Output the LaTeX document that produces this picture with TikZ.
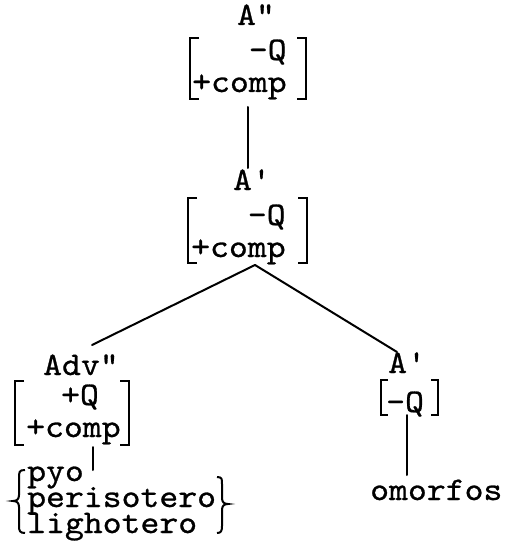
\documentclass[tikz,border=0pt]{standalone}
\usepackage{fontspec}
\newfontfamily\tw{lmmono10-regular}[Extension=.otf, FakeStretch=1.09, FakeBold=0.8]
\tikzset{
  lbl/.style={inner sep=0pt, font=\tw\fontsize{33}{33}\selectfont},
  brk/.style={line width=2.4pt, line join=miter},
  edge/.style={line width=2pt, line cap=round},
}
\begin{document}
\begin{tikzpicture}[x=1pt,y=-1pt]
\useasboundingbox (0,0) rectangle (504,553);
% top A''
\node[lbl,anchor=base] (tlab) at (256,25) {A\symbol{34}};
\node[lbl,anchor=base west] (tcomp) at (192,92) {+comp};
\node[lbl,anchor=base east] (tq) at (tcomp.base east |- 0,60) {-Q};
\draw[brk] (199,38) -- (190,38) -- (190,99) -- (199,99);
\draw[brk] (297,38) -- (306,38) -- (306,99) -- (297,99);
% middle A'
\node[lbl,anchor=base] (mlab) at (252,190) {A\symbol{39}};
\node[lbl,anchor=base west] (mcomp) at (191,257) {+comp};
\node[lbl,anchor=base east] (mq) at (mcomp.base east |- 0,225) {-Q};
\draw[brk] (197,198) -- (188,198) -- (188,263) -- (197,263);
\draw[brk] (298,198) -- (307,198) -- (307,263) -- (298,263);
% left Adv''
\node[lbl,anchor=base west] (llab) at (43,375) {Adv\symbol{34}};
\node[lbl,anchor=base] (lq) at (80,405) {+Q};
\node[lbl,anchor=base west] (lcomp) at (26,437) {+comp};
\draw[brk] (24,381) -- (15,381) -- (15,445) -- (24,445);
\draw[brk] (120,381) -- (129,381) -- (129,445) -- (120,445);
% words
\node[lbl,anchor=base west] (w1) at (27,481) {pyo};
\node[lbl,anchor=base west] (w2) at (27,507) {perisotero};
\node[lbl,anchor=base west] (w3) at (27,533) {lighotero};
\draw[brk,line width=2pt] (25,470) .. controls (19,470) and (19,472) .. (19,478) -- (19,495)
   .. controls (19,499) and (17,501) .. (13,501) .. controls (17,501) and (19,503) .. (19,507)
   -- (19,526) .. controls (19,531) and (20,533) .. (25,533);
\draw[brk,line width=2pt] (217,477) .. controls (222,477) and (222,479) .. (222,484) -- (222,498)
   .. controls (222,502) and (224,504) .. (228,504) .. controls (224,504) and (222,506) .. (222,510)
   -- (222,526) .. controls (222,531) and (221,533) .. (217,533);
% right A'
\node[lbl,anchor=base west] (rlab) at (388,373) {A\symbol{39}};
\node[lbl,anchor=base west] (rq) at (386,412) {-Q};
\draw[brk] (388,380) -- (381,380) -- (381,415) -- (388,415);
\draw[brk] (431,380) -- (438,380) -- (438,415) -- (431,415);
\node[lbl,anchor=base west] (om) at (370,500) {omorfos};
% connectors
\coordinate (c1) at (248,107);
\coordinate (c2) at (248,168);
\coordinate (apex) at (255,265);
\coordinate (lend) at (92,345);
\coordinate (rend) at (397,352);
\coordinate (lv1) at (93,447);
\coordinate (lv2) at (93,470);
\coordinate (rv1) at (407,415);
\coordinate (rv2) at (407,475);
\draw[edge] (c1) -- (c2);
\draw[edge] (apex) -- (lend);
\draw[edge] (apex) -- (rend);
\draw[edge] (lv1) -- (lv2);
\draw[edge] (rv1) -- (rv2);
\end{tikzpicture}
\end{document}
